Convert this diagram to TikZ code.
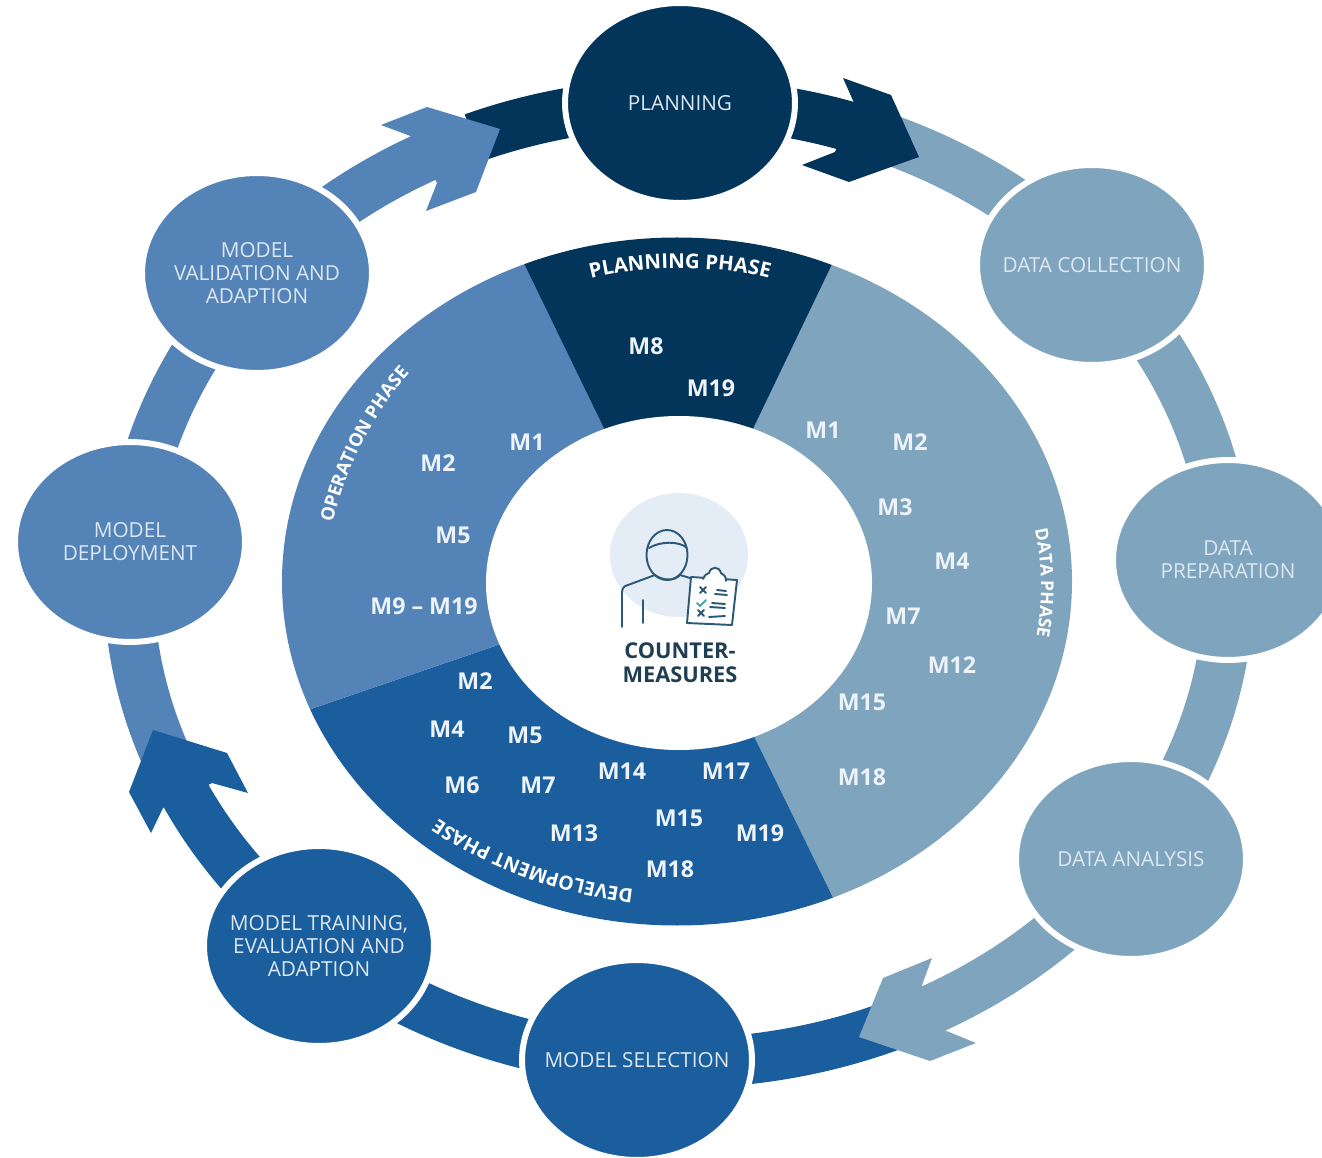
\documentclass[tikz,border=0pt]{standalone}
\usepackage{fontspec}
\setmainfont{Open Sans}
\usetikzlibrary{shapes.geometric,decorations.text}
\definecolor{planBlue}{HTML}{03345A}
\definecolor{dataBlue}{HTML}{7FA4BE}
\definecolor{devBlue}{HTML}{1A5E9E}
\definecolor{opBlue}{HTML}{5483B8}
\definecolor{paleText}{HTML}{DCE7F0}
\definecolor{iconLine}{HTML}{2C5977}
\definecolor{iconBack}{HTML}{E4ECF6}
\def\ringarc[#1](#2:#3){\draw[line width=1cm,#1] (679,583) ++(#2:550 and 480) arc (#2:#3:550 and 480);}
\tikzset{
	stage/.style={ellipse, draw=white, line width=3.4pt, minimum width=4.6cm, minimum height=4cm, inner xsep=-0.8cm, inner ysep=0pt, align=center, text=paleText, font=\fontsize{11.8}{13}\selectfont},
	mlabel/.style={text=paleText!50!white, inner sep=0pt, font=\fontsize{13.2}{15}\selectfont\bfseries},
	iconstroke/.style={draw=iconLine, line width=1.1pt, line cap=round, line join=round}
}

\begin{document}
\begin{tikzpicture}[x=0.02cm, y=-0.02cm]
			%%%%% START %%%%%
			\useasboundingbox (0, 0) rectangle (1322, 1158);
			
			% ring
			\ringarc[planBlue](248:292);
			\ringarc[dataBlue](-69:-40);
			\ringarc[dataBlue](-41:36);
			\ringarc[dataBlue](35:64);
			\ringarc[devBlue](67:131);
			\ringarc[opBlue](158:246);
			\ringarc[devBlue](130:156);
			
			% arrow heads
			\fill[planBlue] (855, 105) -- (843, 78) -- (891, 95) -- (919, 157) -- (849, 182) -- (802, 165) -- (835, 152) -- cycle;
			\fill[opBlue] (413, 137) -- (381, 125) -- (427, 107) -- (500, 129) -- (476, 192) -- (426, 211) -- (437, 183) -- cycle;
			\fill[devBlue] (212, 783) -- (248, 793) -- (227, 753) -- (153, 730) -- (129, 792) -- (151, 833) -- (163, 808) -- cycle;
			\fill[dataBlue] (922, 985) -- (932, 958) -- (883, 978) -- (859, 1037) -- (930, 1061) -- (976, 1043) -- (944, 1030) -- cycle;
			
			% stages
			\node[stage, fill=planBlue] (planning) at (680, 103) {PLANNING};
			\node[stage, fill=dataBlue] (collection) at (1092, 265) {DATA COLLECTION};
			\node[stage, fill=dataBlue] (preparation) at (1228, 560) {DATA\\PREPARATION};
			\node[stage, fill=dataBlue] (analysis) at (1131, 859) {DATA ANALYSIS};
			\node[stage, fill=devBlue] (selection) at (637, 1060) {MODEL SELECTION};
			\node[stage, fill=devBlue] (training) at (319, 946) {MODEL TRAINING,\\EVALUATION AND\\ADAPTION};
			\node[stage, fill=opBlue] (deployment) at (130, 542) {MODEL\\DEPLOYMENT};
			\node[stage, fill=opBlue] (validation) at (257, 273) {MODEL\\VALIDATION AND\\ADAPTION};
			
			% inner disc
			\begin{scope}
				\clip (677, 581.5) ellipse (395 and 344);
				\fill[dataBlue] (679, 583) -- (908, 106) -- (1400, 100) -- (1400, 1100) -- (910, 1055) -- cycle;
				\fill[devBlue] (679, 583) -- (910, 1055) -- (0, 1100) -- (130, 771) -- cycle;
				\fill[opBlue] (679, 583) -- (130, 771) -- (0, 0) -- (448, 107) -- cycle;
				\fill[planBlue] (679, 583) -- (448, 107) -- (908, 106) -- cycle;
			\end{scope}
			\fill[white] (679, 583) ellipse (193 and 167);
			
			% phase names
			\path[decorate, decoration={text along path, text align=center, text={|\fontsize{11.6}{13}\selectfont\bfseries\color{white}|PLANNING PHASE}}] (589, 279) .. controls (640, 265) and (720, 265) .. (771, 279);
			\path[decorate, decoration={text along path, text align=center, text={|\fontsize{10.4}{13}\selectfont\bfseries\color{white}|OPERATION PHASE}}] (333, 522) .. controls (345, 470) and (372, 415) .. (409, 374);
			\path[decorate, decoration={text along path, text align=center, text={|\fontsize{10}{13}\selectfont\bfseries\color{white}|DATA PHASE}}] (1034, 526) .. controls (1043, 565) and (1043, 600) .. (1036, 640);
			\path[decorate, decoration={text along path, text align=center, text={|\fontsize{11}{13}\selectfont\bfseries\color{white}|DEVELOPMENT PHASE}}] (640, 890) .. controls (565, 882) and (490, 855) .. (433, 815);
			
			% planning phase
			\node[mlabel] (planEight) at (646, 346) {M8};
			\node[mlabel] (planNineteen) at (711, 388) {M19};
			
			% data phase
			\node[mlabel] (dataOne) at (823, 430) {M1};
			\node[mlabel] (dataTwo) at (910, 442) {M2};
			\node[mlabel] (dataThree) at (895, 507) {M3};
			\node[mlabel] (dataFour) at (952, 561) {M4};
			\node[mlabel] (dataSeven) at (903, 616) {M7};
			\node[mlabel] (dataTwelve) at (952, 665) {M12};
			\node[mlabel] (dataFifteen) at (862, 702) {M15};
			\node[mlabel] (dataEighteen) at (862, 777) {M18};
			
			% development phase
			\node[mlabel] (devTwo) at (475, 681) {M2};
			\node[mlabel] (devFour) at (447, 729) {M4};
			\node[mlabel] (devFive) at (525, 735) {M5};
			\node[mlabel] (devSix) at (462, 785) {M6};
			\node[mlabel] (devSeven) at (538, 785) {M7};
			\node[mlabel] (devFourteen) at (622, 771) {M14};
			\node[mlabel] (devSeventeen) at (726, 771) {M17};
			\node[mlabel] (devThirteen) at (574, 833) {M13};
			\node[mlabel] (devFifteen) at (679, 818) {M15};
			\node[mlabel] (devNineteen) at (760, 833) {M19};
			\node[mlabel] (devEighteen) at (670, 869) {M18};
			
			% operation phase
			\node[mlabel] (opOne) at (527, 442) {M1};
			\node[mlabel] (opTwo) at (438, 463) {M2};
			\node[mlabel] (opFive) at (453, 535) {M5};
			\node[mlabel] (opNine) at (424, 606) {M9 -- M19};
			
			% person with clipboard
			\fill[iconBack] (679, 555) ellipse (69 and 62);
			\draw[iconstroke] (667, 555) ellipse (20.5 and 25);
			\draw[iconstroke] (649, 548) .. controls (660, 541) and (680, 541) .. (687, 548);
			\draw[iconstroke] (622, 627) -- (622, 593) .. controls (622, 588) and (624, 586) .. (628, 585) -- (655, 575) .. controls (663, 581) and (675, 581) .. (680, 575) -- (690, 578);
			\draw[iconstroke] (643, 600) -- (643, 623);
			\draw[iconstroke, fill=white] (691, 577) -- (737, 580) -- (732, 625) -- (687, 623) -- cycle;
			\draw[iconstroke, fill=white] (703, 579) .. controls (705, 575) and (706, 574) .. (709, 573) .. controls (711, 566) and (719, 566) .. (721, 573) .. controls (724, 574) and (726, 577) .. (726, 581);
			\draw[iconstroke] (700, 587) -- (706, 593) (706, 587) -- (700, 593);
			\draw[iconstroke] (698, 610) -- (704, 616) (704, 610) -- (698, 616);
			\draw[draw=teal!70, line width=1.1pt, line cap=round] (697, 603) -- (700, 606) -- (706, 600);
			\draw[iconstroke] (717, 590) -- (726, 591) (715, 594) -- (727, 595) (712, 603) -- (725, 604) (710, 607) -- (725, 608) (709, 617) -- (725, 616);
			\node[inner sep=0pt, align=center, text=iconLine!70!black, font=\fontsize{12.4}{13.6}\selectfont\bfseries] (countermeasures) at (680, 663) {COUNTER-\\MEASURES};
			
			%%%%% END %%%%%
		\end{tikzpicture}
\end{document}
